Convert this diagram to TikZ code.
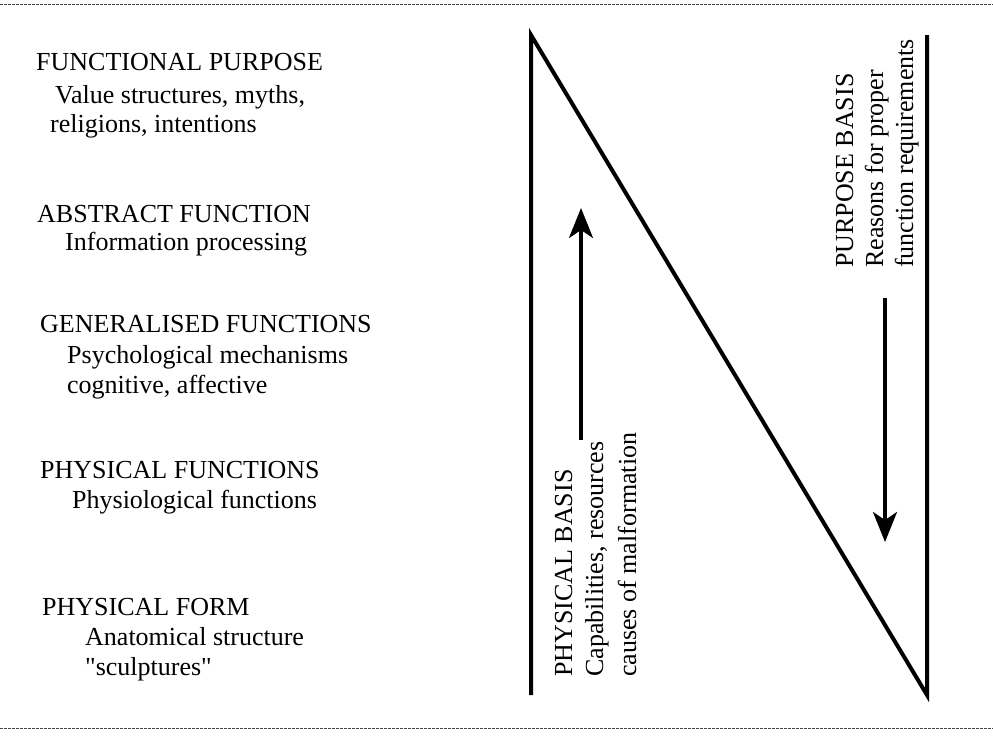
\documentclass[tikz,border=0pt]{standalone}
\usepackage{fontspec}
\setmainfont{Liberation Serif}
\usetikzlibrary{arrows.meta}
\begin{document}
\begin{tikzpicture}[x=1pt,y=-1pt,
  lbl/.style={anchor=base west,inner sep=0pt,font=\fontsize{26}{30}\selectfont},
  vlbl/.style={lbl,rotate=90},
  frame/.style={line width=4pt,line join=miter},
  flow/.style={line width=3.3pt,-{Stealth[length=30pt,width=24pt,inset=8pt]}},
  rule/.style={line width=0.8pt,black!75,dash pattern=on 3pt off 1pt}]
\useasboundingbox (0,0) rectangle (993,742);

% page rules
\coordinate (rtl) at (0,4);   \coordinate (rtr) at (993,4);
\coordinate (rbl) at (0,728); \coordinate (rbr) at (993,728);
\draw[rule] (rtl) -- (rtr);
\draw[rule] (rbl) -- (rbr);

% abstraction hierarchy
\node[lbl] (fp)  at (36,70)  {FUNCTIONAL PURPOSE};
\node[lbl] (fp1) at (55,103) {Value structures, myths,};
\node[lbl] (fp2) at (50,132) {religions, intentions};

\node[lbl] (af)  at (37,222) {ABSTRACT FUNCTION};
\node[lbl] (af1) at (65,250) {Information processing};

\node[lbl] (gf)  at (40,332) {GENERALISED FUNCTIONS};
\node[lbl] (gf1) at (67,363) {Psychological mechanisms};
\node[lbl] (gf2) at (67,393) {cognitive, affective};

\node[lbl] (pf)  at (40,478) {PHYSICAL FUNCTIONS};
\node[lbl] (pf1) at (72,508) {Physiological functions};

\node[lbl] (fo)  at (42,615) {PHYSICAL FORM};
\node[lbl] (fo1) at (85,645) {Anatomical structure};
\node[lbl] (fo2) at (85,675) {\textquotedbl sculptures\textquotedbl};

% frame: two uprights joined by the diagonal
\coordinate (tl) at (531,35);
\coordinate (bl) at (531,695);
\coordinate (tr) at (927,35);
\coordinate (br) at (927,695);
\draw[frame] (bl) -- (tl) -- (br) -- (tr);

% physical basis (bottom-up)
\node[vlbl] (pb)  at (572,677) {PHYSICAL BASIS};
\node[vlbl] (pb1) at (603,677) {Capabilities, resources};
\node[vlbl] (pb2) at (636,677) {causes of malformation};
\coordinate (upS) at (581,440);
\coordinate (upE) at (581,208);
\draw[flow] (upS) -- (upE);

% purpose basis (top-down)
\node[vlbl] (ub)  at (853,268) {PURPOSE BASIS};
\node[vlbl] (ub1) at (883,268) {Reasons for proper};
\node[vlbl] (ub2) at (913,268) {function requirements};
\coordinate (dnS) at (885,298);
\coordinate (dnE) at (885,542);
\draw[flow] (dnS) -- (dnE);
\end{tikzpicture}
\end{document}
